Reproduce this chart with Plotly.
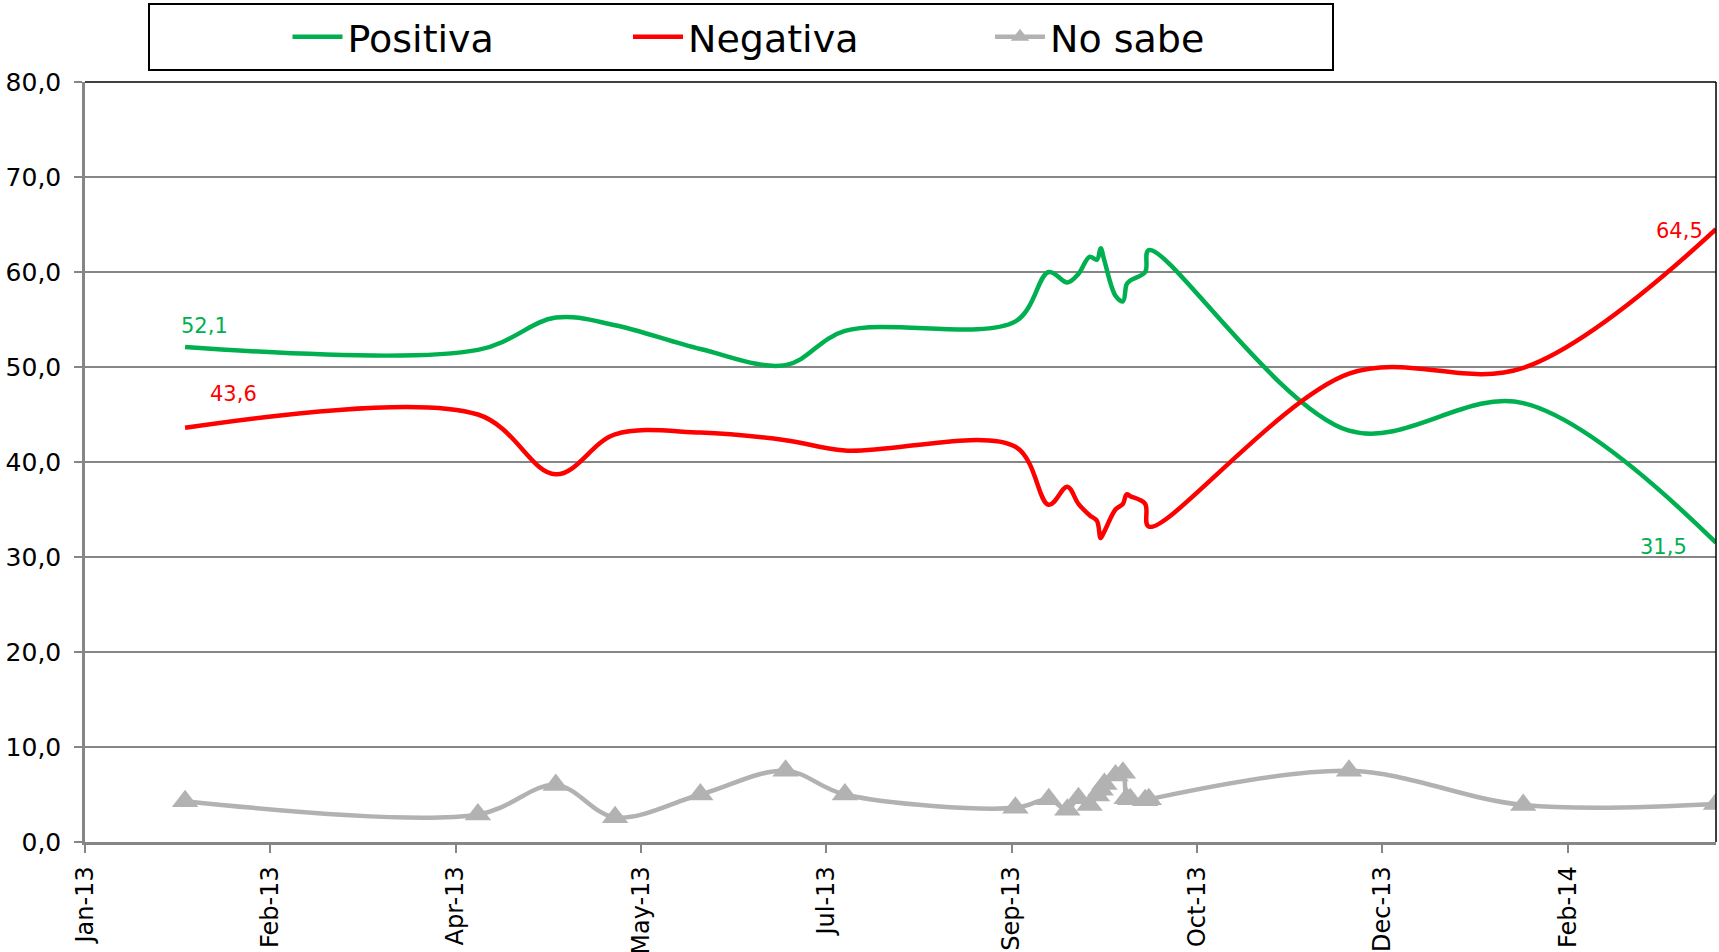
import plotly.graph_objects as go

# ---- data ----
dates = ["2013-01-28", "2013-04-17", "2013-05-08", "2013-05-24", "2013-06-16",
         "2013-07-09", "2013-07-25", "2013-09-09", "2013-09-18", "2013-09-23",
         "2013-09-26", "2013-09-29", "2013-10-01", "2013-10-02", "2013-10-03",
         "2013-10-06", "2013-10-08", "2013-10-09", "2013-10-10", "2013-10-14",
         "2013-10-15", "2013-12-08", "2014-01-24", "2014-03-17"]
positiva = [52.1, 51.8, 55.2, 54.4, 51.9, 50.2, 53.8, 54.8, 60.0, 58.9,
            59.8, 61.6, 61.3, 62.5, 61.2, 57.5, 56.9, 58.7, 59.1, 60.0,
            62.3, 43.3, 46.2, 31.5]
negativa = [43.6, 45.0, 38.7, 42.9, 43.1, 42.3, 41.2, 41.6, 35.5, 37.4,
            35.6, 34.4, 33.8, 32.0, 32.7, 35.0, 35.6, 36.6, 36.4, 35.6,
            33.2, 49.3, 49.9, 64.5]
no_sabe = [4.3, 2.9, 6.0, 2.6, 5.0, 7.5, 5.0, 3.6, 4.5, 3.4,
           4.6, 3.9, 4.9, 5.5, 6.1, 7.0, 7.3, 4.6, 4.5, 4.4,
           4.5, 7.5, 3.9, 4.0]

tick_dates = ["2013-01-01", "2013-02-20", "2013-04-11", "2013-05-31", "2013-07-20",
              "2013-09-08", "2013-10-28", "2013-12-17", "2014-02-05"]
tick_labels = ["Jan-13", "Feb-13", "Apr-13", "May-13", "Jul-13",
               "Sep-13", "Oct-13", "Dec-13", "Feb-14"]

GREEN = "#00B050"
RED = "#FF0000"
GRAY = "#B2B2B2"
FONT = "DejaVu Sans"

W, H = 1719, 952
ML, MR, MT, MB = 85, 3, 82, 110
ITEMW = 50

fig = go.Figure()
fig.add_trace(go.Scatter(x=dates, y=positiva, name="Positiva", mode="lines",
                         line=dict(color=GREEN, width=4.5, shape="spline", smoothing=1.0),
                         legend="legend"))
fig.add_trace(go.Scatter(x=dates, y=negativa, name="Negativa", mode="lines",
                         line=dict(color=RED, width=4.5, shape="spline", smoothing=1.0),
                         legend="legend2"))
fig.add_trace(go.Scatter(x=dates, y=no_sabe, name="No sabe", mode="lines+markers",
                         line=dict(color=GRAY, width=4.5, shape="spline", smoothing=1.0),
                         marker=dict(symbol="triangle-up", size=23, color=GRAY),
                         legend="legend3"))


def fmt(v):
    return f"{v:.1f}".replace(".", ",")


annots = [
    dict(x=dates[0], y=positiva[0], text=fmt(positiva[0]), color=GREEN, xs=19, ys=21),
    dict(x=dates[0], y=negativa[0], text=fmt(negativa[0]), color=RED, xs=48, ys=34),
    dict(x=dates[-1], y=negativa[-1], text=fmt(negativa[-1]), color=RED, xs=-37, ys=-2),
    dict(x=dates[-1], y=positiva[-1], text=fmt(positiva[-1]), color=GREEN, xs=-53, ys=-4),
]
for a in annots:
    fig.add_annotation(x=a["x"], y=a["y"], text=a["text"], showarrow=False,
                       xanchor="center", yanchor="middle", xshift=a["xs"], yshift=a["ys"],
                       font=dict(family=FONT, size=21, color=a["color"]))

# plot-area top and right borders (black)
fig.add_shape(type="line", xref="paper", yref="paper", x0=0, x1=1, y0=1, y1=1,
              line=dict(color="black", width=1.5))
fig.add_shape(type="line", xref="paper", yref="paper", x0=1, x1=1, y0=0, y1=1,
              line=dict(color="black", width=1.5))
# legend frame
fig.add_shape(type="rect", xref="paper", yref="paper",
              x0=(149 - ML) / (W - ML - MR), x1=(1333 - ML) / (W - ML - MR),
              y0=1 + (MT - 70) / (H - MT - MB), y1=1 + (MT - 4) / (H - MT - MB),
              line=dict(color="black", width=2))

leg_common = dict(orientation="h", xref="container", yref="container",
                  xanchor="left", yanchor="middle", y=1 - 37 / H,
                  bgcolor="rgba(0,0,0,0)", borderwidth=0, itemwidth=ITEMW,
                  font=dict(family=FONT, size=38, color="black"))
gap = ITEMW + 10

fig.update_layout(
    width=W, height=H,
    margin=dict(l=ML, r=MR, t=MT, b=MB, autoexpand=False),
    paper_bgcolor="white", plot_bgcolor="white",
    separators=", ",
    showlegend=True,
    legend=dict(x=(347.5 - gap) / W, **leg_common),
    legend2=dict(x=(688 - gap) / W, **leg_common),
    legend3=dict(x=(1050 - gap) / W, **leg_common),
    xaxis=dict(type="date", range=["2013-01-01", "2014-03-17"],
               tickmode="array", tickvals=tick_dates, ticktext=tick_labels,
               tickangle=-90, ticks="outside", ticklen=8, tickwidth=2, tickcolor="#868686",
               showline=True, linecolor="#868686", linewidth=2.5, automargin=False,
               showgrid=False, zeroline=False, ticklabelstandoff=4,
               tickfont=dict(family=FONT, size=24, color="black")),
    yaxis=dict(range=[0, 80], dtick=10, tick0=0, tickformat=".1f",
               ticks="outside", ticklen=8, tickwidth=2, tickcolor="#868686",
               showline=True, linecolor="#868686", linewidth=2.5, automargin=False,
               showgrid=True, gridcolor="#868686", gridwidth=2, zeroline=False,
               ticklabelstandoff=8,
               tickfont=dict(family=FONT, size=25, color="black")),
)

fig.write_html("out.html", config={"displayModeBar": False},
               post_script="document.body.style.margin='0';document.body.style.overflow='hidden';")
